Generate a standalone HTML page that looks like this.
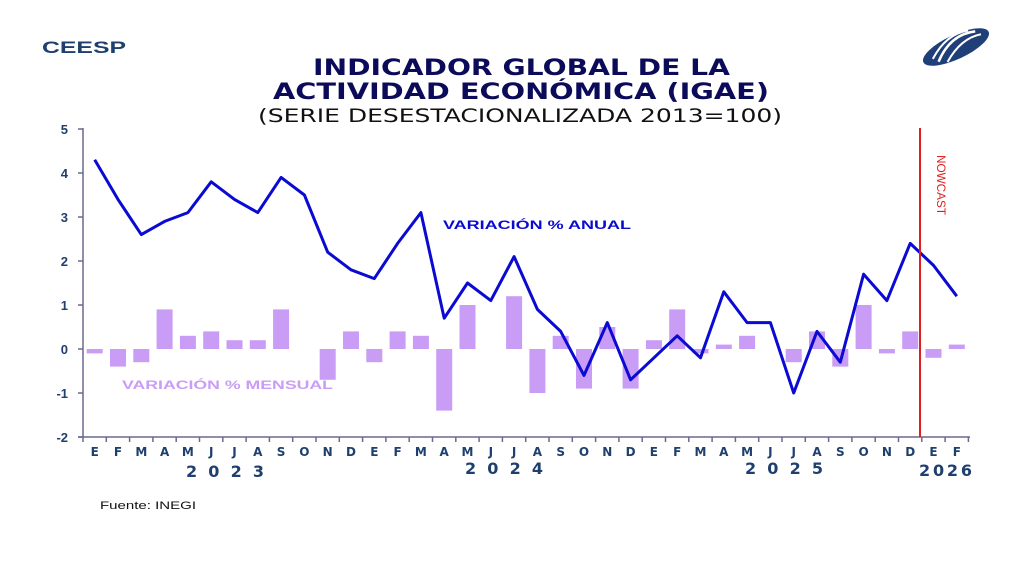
<!DOCTYPE html>
<html><head><meta charset="utf-8"><style>
body{margin:0;background:#fff;}
svg{display:block;font-family:"Liberation Sans",Arial,sans-serif;}
</style></head><body>
<svg id="s" width="1024" height="579" viewBox="0 0 1024 579">
<rect width="1024" height="579" fill="#fff"/>
<text x="42" y="53" font-size="17" font-weight="bold" fill="#1f3f6e" textLength="84" lengthAdjust="spacingAndGlyphs">CEESP</text>
<g transform="translate(956,47) rotate(-25)">
<ellipse cx="0" cy="0" rx="36" ry="12" fill="#1f3f78"/>
<path d="M-22,6 Q0,-14 24,-6" stroke="#fff" stroke-width="2.5" fill="none"/>
<path d="M-26,1 Q-4,-16 18,-10" stroke="#fff" stroke-width="2" fill="none"/>
<path d="M-14,10 Q8,-6 28,-1" stroke="#fff" stroke-width="2" fill="none"/>
</g>
<g fill="#0b0b5a" style="font-family:'DejaVu Sans',sans-serif">
<text x="313" y="75" font-size="22" font-weight="bold" textLength="417" lengthAdjust="spacingAndGlyphs">INDICADOR GLOBAL DE LA</text>
<text x="273" y="99" font-size="22" font-weight="bold" textLength="496" lengthAdjust="spacingAndGlyphs">ACTIVIDAD ECONÓMICA (IGAE)</text>
<text x="258" y="122" font-size="19" fill="#111" textLength="524" lengthAdjust="spacingAndGlyphs">(SERIE DESESTACIONALIZADA 2013=100)</text>
</g>
<g id="bars" fill="#c99cf5"></g>
<g id="ax" stroke="#6a6a90" stroke-width="1.5"></g>
<polyline id="ln" fill="none" stroke="#0a0ad2" stroke-width="3" stroke-linejoin="round"/>
<line x1="920" y1="128" x2="920" y2="437" stroke="#e02020" stroke-width="2"/>
<text transform="translate(937,155) rotate(90)" font-size="12" fill="#e02020" textLength="60" lengthAdjust="spacingAndGlyphs">NOWCAST</text>
<g font-size="13" font-weight="bold" fill="#1f3f6e" text-anchor="end">
<text x="68" y="134">5</text><text x="68" y="178">4</text><text x="68" y="222">3</text><text x="68" y="266">2</text><text x="68" y="310">1</text><text x="68" y="354">0</text><text x="68" y="398">-1</text><text x="68" y="442">-2</text>
</g>
<text x="443" y="229" font-size="12" font-weight="bold" fill="#0a0ad2" textLength="188" lengthAdjust="spacingAndGlyphs">VARIACIÓN % ANUAL</text>
<text x="122" y="389" font-size="12" font-weight="bold" fill="#c99cf5" textLength="211" lengthAdjust="spacingAndGlyphs">VARIACIÓN % MENSUAL</text>
<g font-size="12" font-weight="bold" fill="#1f3f6e" text-anchor="middle" style="font-family:'DejaVu Sans',sans-serif">
<text x="94.7" y="456">E</text><text x="118" y="456">F</text><text x="141.3" y="456">M</text><text x="164.6" y="456">A</text><text x="187.9" y="456">M</text><text x="211.2" y="456">J</text><text x="234.5" y="456">J</text><text x="257.8" y="456">A</text><text x="281.1" y="456">S</text><text x="304.4" y="456">O</text><text x="327.7" y="456">N</text><text x="351" y="456">D</text>
<text x="374.3" y="456">E</text><text x="397.6" y="456">F</text><text x="420.9" y="456">M</text><text x="444.2" y="456">A</text><text x="467.5" y="456">M</text><text x="490.8" y="456">J</text><text x="514.1" y="456">J</text><text x="537.4" y="456">A</text><text x="560.7" y="456">S</text><text x="584" y="456">O</text><text x="607.3" y="456">N</text><text x="630.6" y="456">D</text>
<text x="653.9" y="456">E</text><text x="677.2" y="456">F</text><text x="700.5" y="456">M</text><text x="723.8" y="456">A</text><text x="747.1" y="456">M</text><text x="770.4" y="456">J</text><text x="793.7" y="456">J</text><text x="817" y="456">A</text><text x="840.3" y="456">S</text><text x="863.6" y="456">O</text><text x="886.9" y="456">N</text><text x="910.2" y="456">D</text>
<text x="933.5" y="456">E</text><text x="956.8" y="456">F</text>
</g>
<g font-size="16" font-weight="bold" fill="#1f3f6e" style="font-family:'DejaVu Sans',sans-serif">
<text x="186" y="477" textLength="78" lengthAdjust="spacing">2023</text><text x="465" y="474" textLength="78" lengthAdjust="spacing">2024</text><text x="745" y="474" textLength="78" lengthAdjust="spacing">2025</text><text x="919" y="476" textLength="53" lengthAdjust="spacing">2026</text>
</g>
<text x="100" y="509" font-size="11" fill="#111" textLength="96" lengthAdjust="spacingAndGlyphs">Fuente: INEGI</text>
</svg>
<script>
var a=[4.3,3.4,2.6,2.9,3.1,3.8,3.4,3.1,3.9,3.5,2.2,1.8,1.6,2.4,3.1,0.7,1.5,1.1,2.1,0.9,0.4,-0.6,0.6,-0.7,-0.2,0.3,-0.2,1.3,0.6,0.6,-1.0,0.4,-0.3,1.7,1.1,2.4,1.9,1.2];
var m=[-0.1,-0.4,-0.3,0.9,0.3,0.4,0.2,0.2,0.9,0,-0.7,0.4,-0.3,0.4,0.3,-1.4,1.0,0,1.2,-1.0,0.3,-0.9,0.5,-0.9,0.2,0.9,-0.1,0.1,0.3,0,-0.3,0.4,-0.4,1.0,-0.1,0.4,-0.2,0.1];
var NS="http://www.w3.org/2000/svg",X=i=>94.7+23.3*i,Y=v=>349-44*v;
var b=document.getElementById('bars'),pts=[];
for(var i=0;i<38;i++){pts.push(X(i)+','+Y(a[i]));
if(m[i]){var r=document.createElementNS(NS,'rect');var y0=Math.min(Y(0),Y(m[i]));r.setAttribute('x',X(i)-8);r.setAttribute('y',y0);r.setAttribute('width',16);r.setAttribute('height',Math.abs(44*m[i]));b.appendChild(r);}}
document.getElementById('ln').setAttribute('points',pts.join(' '));
var ax=document.getElementById('ax');
function L(x1,y1,x2,y2){var l=document.createElementNS(NS,'line');l.setAttribute('x1',x1);l.setAttribute('y1',y1);l.setAttribute('x2',x2);l.setAttribute('y2',y2);ax.appendChild(l);}
L(83,128,83,437);L(78,437,970,437);
for(var k=0;k<8;k++)L(78,129+44*k,83,129+44*k);
for(var i=0;i<=38;i++)L(83+23.3*i,437,83+23.3*i,442);
</script>
</body></html>
